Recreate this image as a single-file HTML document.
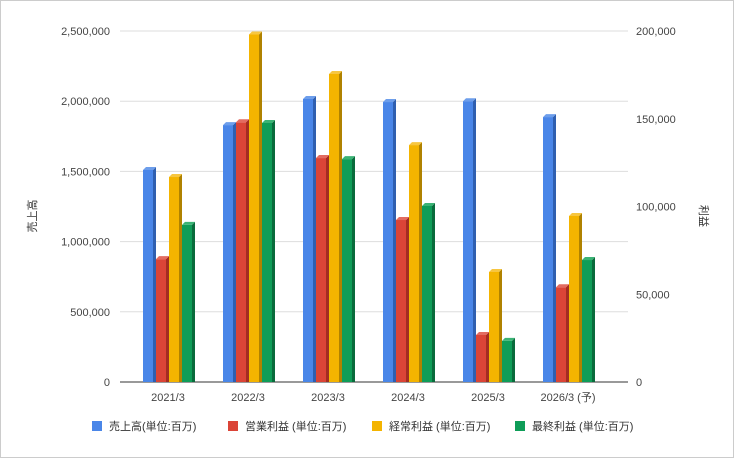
<!DOCTYPE html>
<html><head><meta charset="utf-8"><style>
body{margin:0;background:#fff;font-family:"Liberation Sans","Noto Sans CJK JP",sans-serif;}
</style></head><body>
<svg id="chart" width="734" height="458" xmlns="http://www.w3.org/2000/svg" font-family="Liberation Sans, Noto Sans CJK JP, sans-serif">
<rect x="0.5" y="0.5" width="733" height="457" fill="#fff" stroke="#ccc"/>
<g id="grid"></g><g id="bars"></g><g id="axes"></g><g id="legend"></g>
</svg>
<script>
const categories=["2021/3","2022/3","2023/3","2024/3","2025/3","2026/3 (予)"];
const sales=[1510000,1830000,2016000,1994000,2000000,1887000];
const opProfit=[70000,148000,127600,92300,26800,54000];
const ordProfit=[116800,198000,175500,135000,62700,94600];
const netProfit=[89500,147600,127000,100300,23400,69500];
const leftTicks=[0,500000,1000000,1500000,2000000,2500000];
const rightTicks=[0,50000,100000,150000,200000];
const seriesNames=["売上高(単位:百万)","営業利益 (単位:百万)","経常利益 (単位:百万)","最終利益 (単位:百万)"];
const pTop=31,pBottom=382,pLeft=120,pRight=628;
const yL=v=>pBottom-v/2500000*(pBottom-pTop);
const yR=v=>pBottom-v/200000*(pBottom-pTop);
const xC=i=>168+i*80;
const NS="http://www.w3.org/2000/svg";
function mk(t,a,p){const e=document.createElementNS(NS,t);for(const k in a)e.setAttribute(k,a[k]);p.appendChild(e);return e;}
const fmt=v=>v.toLocaleString('en-US');
const grid=document.getElementById('grid'),axes=document.getElementById('axes'),bars=document.getElementById('bars'),legend=document.getElementById('legend');
leftTicks.forEach(v=>{const y=yL(v);
 const l=mk('line',{x1:pLeft,x2:pRight,y1:y,y2:y,stroke:v===0?'#333':'#ddd','stroke-width':1},grid);
 
 
 const t=mk('text',{x:110,y:y+4,'text-anchor':'end','font-size':11,fill:'#444'},axes);t.textContent=fmt(v);
 
 });
rightTicks.forEach(v=>{const t=mk('text',{x:636,y:yR(v)+4,'font-size':11,fill:'#444'},axes);t.textContent=fmt(v);
 
 });
categories.forEach((c,i)=>{const t=mk('text',{x:xC(i),y:401,'text-anchor':'middle','font-size':11,fill:'#444'},axes);t.textContent=c;
 
 });
let tl=mk('text',{x:36,y:216,'text-anchor':'middle','font-size':11,fill:'#333',transform:'rotate(-90 36 216)'},axes);tl.textContent='売上高';


tl=mk('text',{x:700,y:216,'text-anchor':'middle','font-size':11,fill:'#333',transform:'rotate(90 700 216)'},axes);tl.textContent='利益';


const cols=[["#4a86e8","#2f5fb0","#6d9eeb"],["#db4437","#a32c22","#e36b60"],["#f4b400","#b08200","#f7c640"],["#0f9d58","#0a6b3c","#3bb375"]];
const data=[[sales,yL],[opProfit,yR],[ordProfit,yR],[netProfit,yR]];
categories.forEach((c,i)=>{data.forEach(([arr,sc],s)=>{
 const x=xC(i)-25+s*13,y=sc(arr[i]),w=10,d=3;
 const g=mk('g',{},bars);
 
 
 mk('rect',{x:x,y:y,width:w,height:pBottom-y,fill:cols[s][0]},g);
 mk('polygon',{points:`${x+w},${y} ${x+w+d},${y-d} ${x+w+d},${pBottom} ${x+w},${pBottom}`,fill:cols[s][1]},g);
 mk('polygon',{points:`${x},${y} ${x+d},${y-d} ${x+w+d},${y-d} ${x+w},${y}`,fill:cols[s][2]},g);
});});
const lx=[92,228,372,515];
seriesNames.forEach((n,s)=>{const g=mk('g',{},legend);
 
 
 mk('rect',{x:lx[s],y:421,width:10,height:10,fill:cols[s][0]},g);
 const tt=mk('text',{x:lx[s]+17,y:430,'font-size':11,fill:'#333'},g);tt.textContent=n;});
</script>
</body></html>
